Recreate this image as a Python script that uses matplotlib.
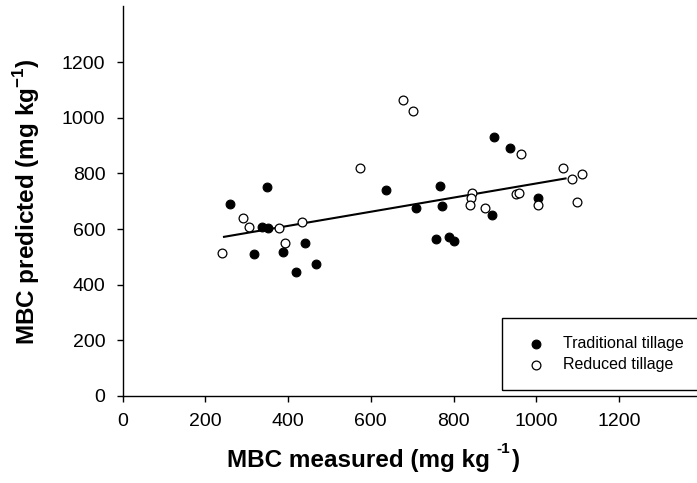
import numpy as np
import matplotlib
matplotlib.use('Agg')
import matplotlib.pyplot as plt
from matplotlib.patches import Rectangle

plt.rcParams['font.family'] = ['Liberation Sans', 'DejaVu Sans']
plt.rcParams['mathtext.fontset'] = 'custom'
plt.rcParams['mathtext.rm'] = 'Liberation Sans'
plt.rcParams['mathtext.bf'] = 'Liberation Sans:bold'

# traditional tillage (filled)
trad_measured = [260, 350, 337, 351, 318, 388, 442, 418, 467, 637,
                 709, 768, 772, 758, 788, 800, 893, 898, 937, 1004]
trad_predicted = [691, 751, 608, 605, 510, 516, 551, 447, 473, 741,
                  676, 756, 683, 565, 572, 556, 649, 932, 890, 713]

# reduced tillage (open)
red_measured = [241, 292, 306, 378, 392, 434, 573, 679, 703, 845, 843,
                840, 877, 950, 958, 964, 1004, 1066, 1087, 1110, 1099]
red_predicted = [513, 639, 608, 602, 551, 626, 819, 1065, 1023, 728, 713,
                 686, 676, 727, 728, 870, 686, 818, 779, 798, 696]

# regression line
fit_intercept = 509.7
fit_slope = 0.254
fit_range = [245, 1071]

ticks = [0, 200, 400, 600, 800, 1000, 1200]

W, H = 697, 483
fig = plt.figure(figsize=(W / 100, H / 100), dpi=100)
ax = fig.add_axes([122.7 / W, 87 / H, 578.9 / W, 389.6 / H])

xl = np.array(fit_range)
ax.plot(xl, fit_intercept + fit_slope * xl, color='black', lw=1.5, zorder=2)
ax.scatter(trad_measured, trad_predicted, s=40, c='black', edgecolors='black',
           linewidths=0.8, zorder=3, label='Traditional tillage')
ax.scatter(red_measured, red_predicted, s=40, c='white', edgecolors='black',
           linewidths=0.9, zorder=3, label='Reduced tillage')

ax.set_xlim(0, 1400)
ax.set_ylim(0, 1400)
ax.set_xticks(ticks)
ax.set_yticks(ticks)
ax.spines['top'].set_visible(False)
ax.spines['right'].set_visible(False)
for s in ['left', 'bottom']:
    ax.spines[s].set_linewidth(1.0)
ax.tick_params(axis='both', direction='out', length=4, width=1.0, labelsize=14)
ax.tick_params(axis='x', pad=8)
ax.tick_params(axis='y', pad=8.5)

# axis labels
fig.text(227 / W, 1 - 466.7 / H, 'MBC measured (mg kg', fontsize=17.5,
         fontweight='bold', ha='left', va='baseline')
fig.text(496.7 / W, 1 - 453 / H, '-1', fontsize=11, fontweight='bold',
         ha='left', va='baseline')
fig.text(512 / W, 1 - 466.7 / H, ')', fontsize=17.5, fontweight='bold',
         ha='left', va='baseline')
fig.text(27 / W, 0.583, r'MBC predicted (mg kg$^{\mathbf{-1}}$)', fontsize=17.5,
         fontweight='bold', rotation=90, ha='center', va='center')

# legend
fig.patches.append(Rectangle((502.3 / W, 1 - 390 / H), 230 / W, 72.3 / H,
                             transform=fig.transFigure, fill=False,
                             edgecolor='black', lw=1.0))
ax.legend(loc='upper left', bbox_to_anchor=(527.7 / W, 1 - 336.2 / H),
          bbox_transform=fig.transFigure, frameon=False, fontsize=11.5,
          scatterpoints=1, handlelength=1.0, handletextpad=1.2,
          labelspacing=0.39, borderpad=0, borderaxespad=0)

fig.savefig('out.png', dpi=100)
